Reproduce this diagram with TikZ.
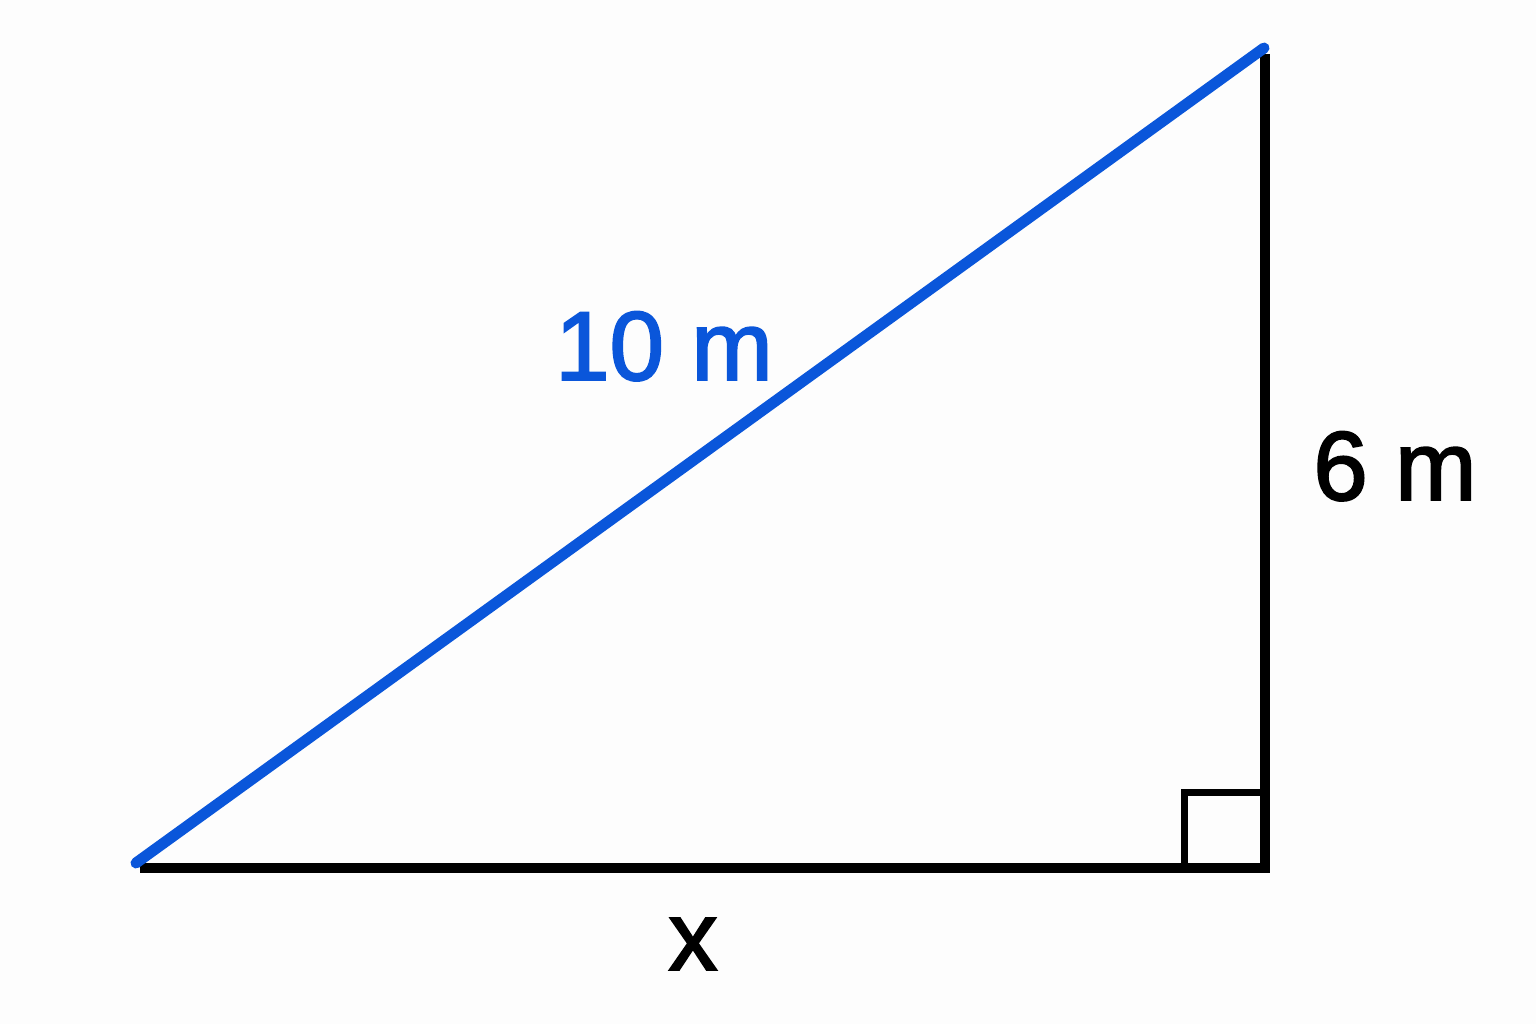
\documentclass[tikz,border=0pt]{standalone}
\usepackage{fontspec}
\setmainfont{Liberation Sans}
\newfontfamily\lblfont{Liberation Sans}[FakeBold=2]
\definecolor{hypblue}{RGB}{10,86,218}
\definecolor{bgc}{RGB}{253,253,253}
\tikzset{
  leg/.style={line width=10pt, black},
  hyp/.style={line width=11pt, hypblue, line cap=round},
  lbl/.style={anchor=base, inner sep=0pt, font=\lblfont\fontsize{98}{110}\selectfont},
  sq/.style={line width=7pt, black}
}
\begin{document}
\begin{tikzpicture}[x=1pt,y=-1pt]
\fill[bgc] (0,0) rectangle (1536,1024);
\useasboundingbox (0,0) rectangle (1536,1024);
\coordinate (A) at (136,863);
\coordinate (C) at (1264,48);
\coordinate (BL) at (140,868);
\coordinate (Bend) at (1270,868);
\coordinate (Ctop) at (1265,54);
\coordinate (Bbot) at (1265,873);
\coordinate (S1) at (1184,868);
\coordinate (S2) at (1184,792);
\coordinate (S3) at (1265,792);
\draw[leg] (BL) -- (Bend);
\draw[leg] (Ctop) -- (Bbot);
\draw[sq] (S1) -- (S2) -- (S3);
\draw[hyp] (A) -- (C);
\node[lbl, text=hypblue] (hl) at (664,380) {10 m};
\node[lbl] (vl) at (1395,500) {6 m};
\node[lbl] (xl) at (693,970) {x};
\end{tikzpicture}
\end{document}
